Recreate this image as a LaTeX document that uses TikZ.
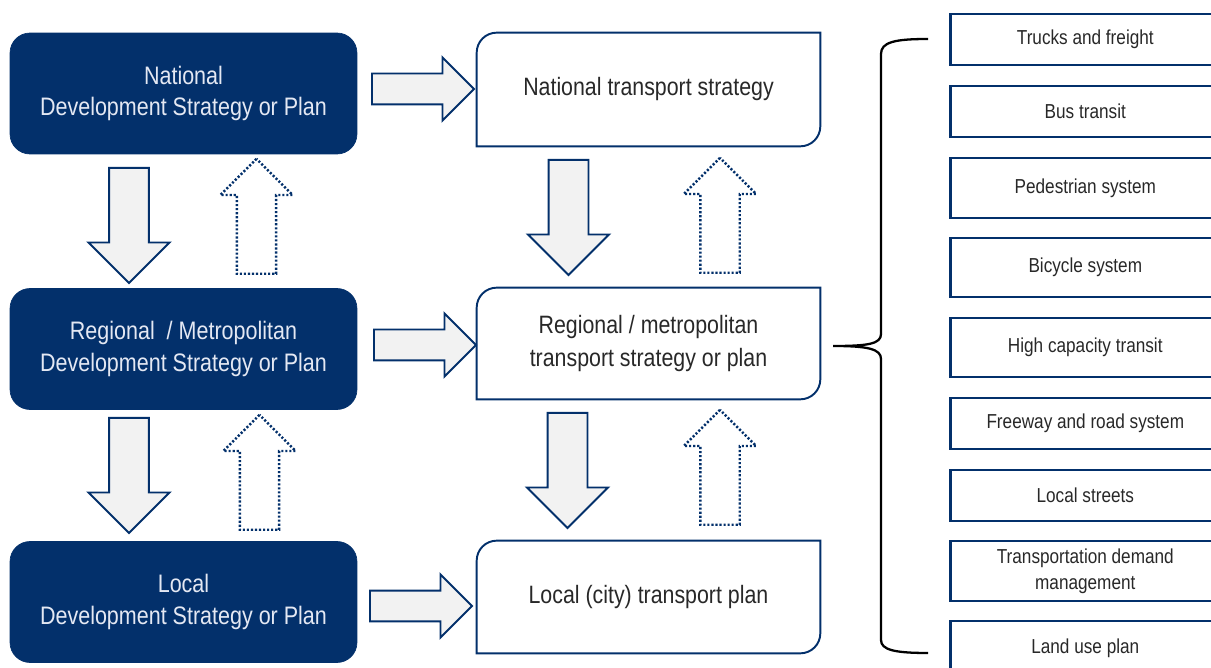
\documentclass[tikz,border=0pt]{standalone}
\usepackage{fontspec}
\setmainfont[FakeStretch=0.85]{Liberation Sans}
\usetikzlibrary{shapes.arrows,positioning}

\definecolor{navy}{RGB}{3,48,107}
\definecolor{arrowgray}{RGB}{242,242,242}
\definecolor{textgray}{RGB}{40,40,40}
\definecolor{paletext}{RGB}{228,232,243}

% outline of a plan box: only two corners rounded
\newcommand{\halfround}[1]{%
  \draw[midline] (#1.south west) -- ([yshift=-0.4cm]#1.north west)
    arc[start angle=180, end angle=90, radius=0.4cm] -- (#1.north east)
    -- ([yshift=0.4cm]#1.south east)
    arc[start angle=0, end angle=-90, radius=0.4cm] -- cycle;}

\begin{document}
\begin{tikzpicture}[
    x = 0.02cm, y = -0.02cm, % one unit is one pixel of the layout
    devbox/.style = {fill = navy, draw = navy, rounded corners = 0.4cm,
      text = paletext, align = center, minimum width = 6.94cm,
      minimum height = 2.42cm, font = \fontsize{14.4}{18}\selectfont},
    midbox/.style = {text = textgray, align = center, minimum width = 6.86cm,
      font = \fontsize{14.3}{18.7}\selectfont},
    midline/.style = {draw = navy, line width = 1.1pt},
    modebox/.style = {draw = navy, line width = 1.5pt, anchor = west,
      minimum width = 5.4cm, text = textgray, align = center,
      font = \fontsize{11.5}{14.7}\selectfont},
    blockarr/.style = {single arrow, draw = navy, line width = 1.1pt,
      anchor = tail, inner xsep = 0pt, minimum width = 0pt},
    downarr/.style = {blockarr, fill = arrowgray, rotate = -90,
      inner ysep = 0.38cm, single arrow head extend = 0.41cm,
      minimum height = 2.3cm},
    uparr/.style = {blockarr, fill = white, rotate = 90, line width = 1.4pt,
      dash pattern = on 1.2pt off 1.1pt, inner ysep = 0.37cm,
      single arrow head extend = 0.33cm, minimum height = 2.3cm},
    rightarr/.style = {blockarr, fill = arrowgray, inner ysep = 0.29cm,
      single arrow head extend = 0.32cm, minimum height = 2.04cm},
    bracket/.style = {draw = black, line width = 1.3pt}
    ]

    \clip (0,0) rectangle (1211,668);

    % development strategies
    \node[devbox] (natdev) at (183.5,93.5) {National\\Development Strategy or Plan};
    \node[devbox] (regdev) at (183.5,349) {Regional~ / Metropolitan\\Development Strategy or Plan};
    \node[devbox] (locdev) at (183.5,602) {Local\\Development Strategy or Plan};

    % transport plans
    \node[midbox, minimum height = 2.26cm] (natplan) at (648.5,89.5) {National transport strategy};
    \node[midbox, minimum height = 2.22cm] (regplan) at (648.5,343.5) {Regional / metropolitan\\transport strategy or plan};
    \node[midbox, minimum height = 2.24cm] (locplan) at (648.5,597) {Local (city) transport plan};
    \halfround{natplan}
    \halfround{regplan}
    \halfround{locplan}

    % block arrows
    \node[rightarr] (a1) at (371,89) {};
    \node[rightarr] (a2) at (373,345) {};
    \node[rightarr] (a3) at (369,606) {};
    \node[downarr] (d1) at (129,167) {};
    \node[downarr] (d2) at (129,417) {};
    \node[downarr] (d3) at (568.5,159) {};
    \node[downarr] (d4) at (567.5,412) {};
    \node[uparr] (u1) at (256.5,275) {};
    \node[uparr] (u2) at (259.5,531) {};
    \node[uparr] (u3) at (720,274) {};
    \node[uparr] (u4) at (720,526) {};

    % plan elements
    \foreach \ytop/\ybot/\txt [count=\i] in {14/65/Trucks and freight,
        86/137/Bus transit, 158/218/Pedestrian system, 238/297/Bicycle system,
        318/377/High capacity transit, 398/449/Freeway and road system,
        470/521/Local streets, 541/601/{Transportation demand\\management},
        621/675/Land use plan}
      \node[modebox, minimum height = {(\ybot-\ytop)*0.02cm}] (mode\i)
        at (949,{(\ytop+\ybot)/2}) {\txt};

    % brace
    \draw[bracket] (928,39) .. controls (895,39) and (881,42) .. (881,54)
      -- (881,334) .. controls (881,344) and (868,346) .. (833,346)
      .. controls (868,346) and (881,349) .. (881,359)
      -- (881,640) .. controls (881,650) and (895,653) .. (928,653);
\end{tikzpicture}
\end{document}
